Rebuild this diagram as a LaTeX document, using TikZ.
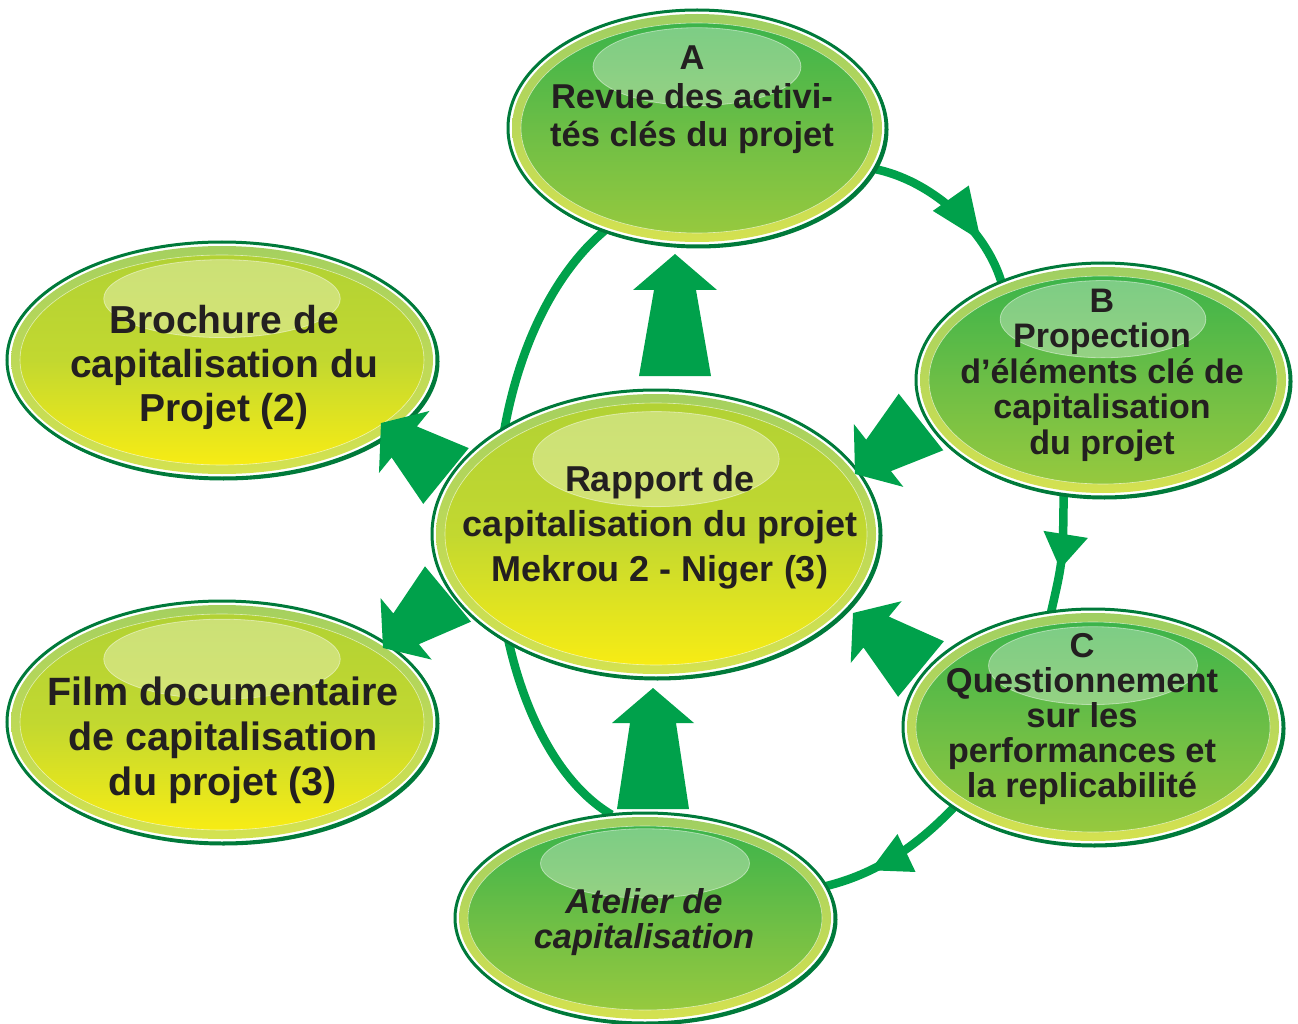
\documentclass[tikz,border=0pt]{standalone}
\usepackage{fontspec}
\setmainfont{Liberation Sans}
\usetikzlibrary{calc,decorations.markings,shapes.geometric}
\definecolor{dkgreen}{RGB}{0,122,58}
\definecolor{arrowgreen}{RGB}{0,161,75}
\definecolor{txtcol}{RGB}{35,31,32}
\definecolor{grringT}{RGB}{160,207,98}
\definecolor{grringB}{RGB}{212,225,80}
\definecolor{grinT}{RGB}{60,180,74}
\definecolor{grinM}{RGB}{108,190,70}
\definecolor{grinB}{RGB}{150,201,62}
\definecolor{yeringT}{RGB}{165,208,95}
\definecolor{yeringB}{RGB}{212,226,80}
\definecolor{yeinT}{RGB}{178,210,52}
\definecolor{yeinM}{RGB}{194,216,48}
\definecolor{yeinB}{RGB}{247,236,20}
\pgfdeclarelayer{bg}
\pgfsetlayers{bg,main}
\newcommand\bubble[6]{%
 \fill[dkgreen] (#2+1.5,#3+1.5) ellipse [x radius=#4+1, y radius=#5+1];
 \fill[white] (#2,#3) ellipse [x radius=#4, y radius=#5];
 \shade[top color=#6ringT, bottom color=#6ringB] (#2,#3) ellipse [x radius=#4-4, y radius=#5-4];
 \shade[top color=#6inT, bottom color=#6inB, middle color=#6inM] (#2,#3) ellipse [x radius=#4-13, y radius=#5-13];
 \draw[white, line width=0.6pt, opacity=0.6] (#2,#3) ellipse [x radius=#4-13, y radius=#5-13];
 \fill[white, fill opacity=0.33, draw=white, draw opacity=0.45, line width=0.8pt] (#2,#3-0.52*#5) ellipse [x radius=0.55*#4, y radius=0.33*#5];
 \node[bubline, minimum width=2*#4pt, minimum height=2*#5pt] (#1) at (#2,#3) {};
}
\newcommand\taper[6]{%
 \coordinate (hb) at ($(#2)!#6!(#1)$);
 \fill[arrowgreen] ($(#1)!#3!90:(#2)$) -- ($(hb)!#4!90:(#2)$) -- ($(hb)!#5!90:(#2)$) -- (#2) -- ($(hb)!#5!-90:(#2)$) -- ($(hb)!#4!-90:(#2)$) -- ($(#1)!#3!-90:(#2)$) -- cycle;}
\begin{document}
\begin{tikzpicture}[x=1pt,y=-1pt,
  conn/.style={draw=arrowgreen, line width=8.5pt},
  bubline/.style={ellipse, draw=dkgreen, line width=3pt, inner sep=0pt, outer sep=0pt},
  txt/.style={text=txtcol, align=center, inner sep=0pt},
  headat/.style n args={3}{postaction={decorate, decoration={markings, mark=at position #1 with {\fill[arrowgreen] (0,0) -- (-#2,#3/2) -- (-#2,-#3/2) -- cycle;}}}}
]
\useasboundingbox (0,0) rectangle (1298,1024);
% bubbles
\bubble{A}{697}{128}{189}{118}{gr}
\bubble{B}{1103}{380}{187}{117}{gr}
\bubble{C}{1093}{727}{190}{118}{gr}
\bubble{R}{656}{534}{224}{144}{ye}
\bubble{Br}{222}{360}{215}{118}{ye}
\bubble{Fi}{222}{722}{215}{121}{ye}
\bubble{At}{645}{918}{190}{105}{gr}
% texts
\node[txt, font={\fontsize{34.5}{38.5}\selectfont\bfseries}] (A-t) at (692,100) {A\\Revue des activi-\\tés clés du projet};
\node[txt, font={\fontsize{34}{35.5}\selectfont\bfseries}] (B-t) at (1102,375) {B\\Propection\\d’éléments clé de\\capitalisation\\du projet};
\node[txt, font={\fontsize{34.5}{35}\selectfont\bfseries}] (C-t) at (1082,719) {C\\Questionnement\\sur les\\performances et\\la replicabilité};
\node[txt, font={\fontsize{36}{45}\selectfont\bfseries}] (R-t) at (660,527) {Rapport de\\capitalisation du projet\\Mekrou 2 - Niger (3)};
\node[txt, font={\fontsize{39}{44}\selectfont\bfseries}] (Br-t) at (224,367) {Brochure de\\capitalisation du\\Projet (2)};
\node[txt, font={\fontsize{39.5}{45}\selectfont\bfseries}] (Fi-t) at (223,740) {Film documentaire\\de capitalisation\\du projet (3)};
\node[txt, font={\fontsize{34.5}{35}\selectfont\bfseries\itshape}] (At-t) at (644,922) {Atelier de\\capitalisation};
% cycle connectors (behind)
\begin{pgfonlayer}{bg}
\draw[conn, headat={0.74}{52}{44}] (A.-13) .. controls (930,180) and (985,228) .. (B.136);
\draw[conn, headat={0.63}{35}{45}] (B.-109) .. controls (1063,560) .. (C.110);
\draw[conn, headat={0.69}{40}{42}] (C.-150) .. controls (915,848) and (875,874) .. (At.10);
\draw[conn] (A.-132) .. controls (537,288) and (496,401) .. (496,525) .. controls (496,655) and (541,773) .. (At.108);
\end{pgfonlayer}
% block arrows
\coordinate (t1) at ($(R.center)+(19,-158)$);  \coordinate (h1) at ($(A.center)+(-22,126)$);
\coordinate (t2) at ($(At.center)+(8,-109)$);  \coordinate (h2) at ($(R.center)+(-3,154)$);
\coordinate (t3) at ($(B.center)+(-182,42)$);  \coordinate (h3) at ($(R.center)+(199,-60)$);
\coordinate (t4) at ($(C.center)+(-172,-58)$); \coordinate (h4) at ($(R.center)+(197,79)$);
\coordinate (t5) at ($(R.center)+(-210,-58)$); \coordinate (h5) at ($(Br.center)+(159,63)$);
\coordinate (t6) at ($(R.center)+(-208,60)$);  \coordinate (h6) at ($(Fi.center)+(161,-74)$);
\taper{t1}{h1}{36pt}{21pt}{42pt}{36pt}
\taper{t2}{h2}{36pt}{23pt}{41pt}{35pt}
\taper{t3}{h3}{36pt}{20pt}{40pt}{30pt}
\taper{t4}{h4}{36pt}{20pt}{40pt}{30pt}
\taper{t5}{h5}{36pt}{20pt}{40pt}{30pt}
\taper{t6}{h6}{36pt}{20pt}{40pt}{30pt}
\end{tikzpicture}
\end{document}
